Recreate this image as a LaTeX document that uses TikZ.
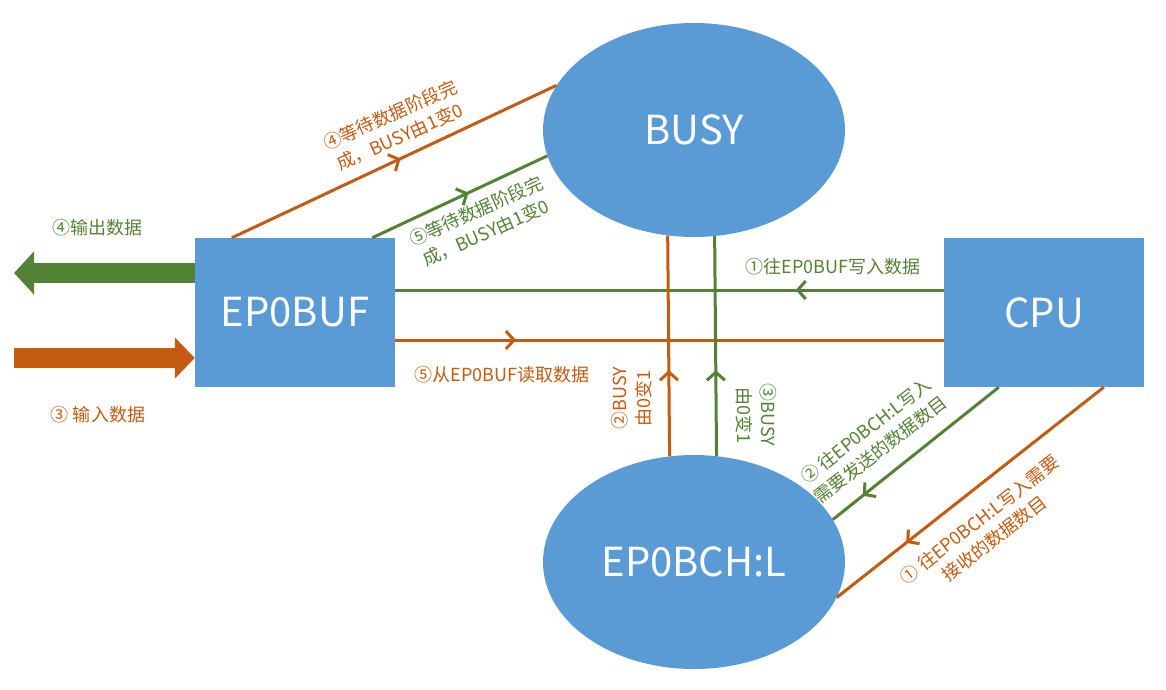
\documentclass[tikz,border=0pt]{standalone}
\usepackage{fontspec}
\setmainfont{Noto Sans CJK SC}
\usetikzlibrary{calc, shapes.geometric, arrows.meta, decorations.markings}
\definecolor{boxblue}{HTML}{5B9BD5}
\definecolor{ogreen}{HTML}{548235}
\definecolor{oorange}{HTML}{C55A11}
\tikzstyle{block}=[rectangle, fill=boxblue, text=white, inner sep=0pt, minimum width=200pt, minimum height=149pt, font=\fontsize{40}{46}\selectfont]
\tikzstyle{blob}=[ellipse, fill=boxblue, text=white, inner sep=0pt, minimum width=302pt, minimum height=214pt, font=\fontsize{40}{46}\selectfont]
\tikzstyle{lbl}=[inner sep=0pt, align=center, font=\fontsize{18}{24}\selectfont]
\tikzstyle{gline}=[ogreen, line width=3pt]
\tikzstyle{oline}=[oorange, line width=3pt]
\tikzset{midtip/.style={postaction={decorate}, decoration={markings, mark=at position #1 with {\arrow{Straight Barb[length=8pt,width=18pt]}}}}}

\begin{document}
\begin{tikzpicture}[x=1pt, y=-1pt]
\useasboundingbox (0,0) rectangle (1166,689);

\node[blob] (busy) at (694,130) {BUSY};
\node[blob] (bch) at (694,562) {EP0BCH:L};
\node[block] (buf) at (295,312.5) {EP0BUF};
\node[block] (cpu) at (1044,312.5) {CPU};
\coordinate (outl) at (14,273);\coordinate (inl) at (14,358);

% data in / out of EP0BUF
\draw[ogreen, line width=20pt, -{Triangle[length=20pt,width=42pt]}] ([yshift=39.5pt]buf.west) -- (outl);
\draw[oorange, line width=20pt, -{Triangle[length=20pt,width=40pt]}] (inl) -- ([yshift=-45.5pt]buf.west);
\node[lbl, ogreen] at (97,228) {④输出数据};
\node[lbl, oorange] at (98,415) {③ 输入数据};

% EP0BUF -- BUSY
\draw[oline, midtip=0.52] ($(buf.north west)+(37,0)$) -- (busy.162);
\draw[gline, midtip=0.55] ($(buf.north east)+(-23,0)$) -- (busy.190);
\node[lbl, oorange, rotate=24] at (395,126) {④等待数据阶段完\\成，BUSY由1变0};
\node[lbl, ogreen, rotate=24] at (481,222) {⑤等待数据阶段完\\成，BUSY由1变0};

% CPU -- EP0BUF
\draw[gline, midtip=0.27] ([yshift=22.5pt]cpu.west) -- ([yshift=22.5pt]buf.east);
\draw[oline, midtip=0.22] ([yshift=-27.5pt]buf.east) -- ([yshift=-27.5pt]cpu.west);
\node[lbl, ogreen] at (833,267) {①往EP0BUF写入数据};
\node[lbl, oorange] at (502,375) {⑤从EP0BUF读取数据};

% EP0BCH:L -- BUSY
\draw[oline, midtip=0.39] (bch.103.3) -- (busy.256.7);
\draw[gline, midtip=0.39] (bch.78.3) -- (busy.281.7);
\node[lbl, oorange, rotate=90] at (632,398) {②BUSY\\由0变1};
\node[lbl, ogreen, rotate=-90] at (756,415) {③BUSY\\由0变1};

% CPU -- EP0BCH:L
\draw[gline, midtip=0.82] ($(cpu.south west)+(55,0)$) -- (bch.17.7);
\draw[oline, midtip=0.74] ($(cpu.south west)+(160,0)$) -- (bch.-14.3);
\node[lbl, ogreen, rotate=38] at (873,440) {② 往EP0BCH:L写入\\需要发送的数据数目};
\node[lbl, oorange, rotate=38] at (987,529) {① 往EP0BCH:L写入需要\\接收的数据数目};
\end{tikzpicture}
\end{document}
